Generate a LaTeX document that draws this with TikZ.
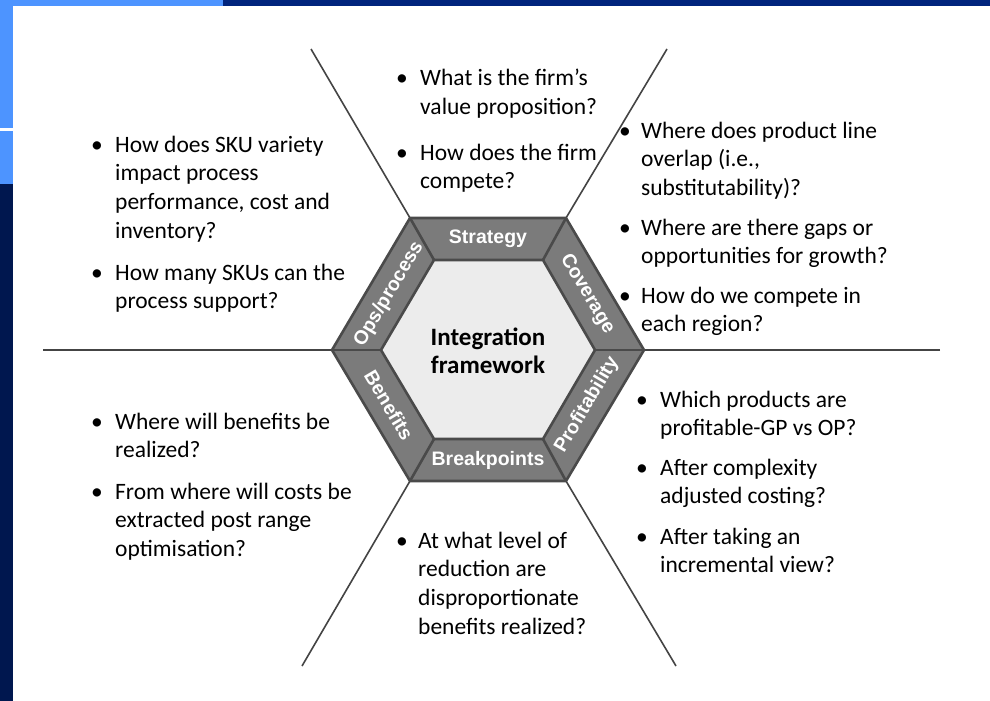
\documentclass[tikz,border=0pt]{standalone}
\usepackage{fontspec}
\setmainfont{Carlito}
\newfontfamily\labelfont{Liberation Sans}
\definecolor{barlight}{HTML}{4D94FF}
\definecolor{bardark}{HTML}{00247D}
\definecolor{stripnavy}{HTML}{00174F}
\definecolor{bandgrey}{HTML}{7B7B7B}
\definecolor{edgegrey}{HTML}{4A4A4A}
\definecolor{coregrey}{HTML}{ECECEC}
\definecolor{spokegrey}{HTML}{444444}
% a stack of lines whose baseline is that of its first line
\newcommand{\qlines}[1]{\begin{tabular}[t]{@{}l@{}}#1\end{tabular}}
\tikzset{
  qtext/.style={font=\fontsize{23.5}{28.7}\selectfont, anchor=base west, inner sep=0pt, text=black},
  qbullet/.style={font=\fontsize{23.5}{28.7}\selectfont, anchor=base west, inner sep=0pt, text=black},
  bandlabel/.style={font=\labelfont\bfseries\fontsize{19.5}{21}\selectfont, text=white, inner sep=0pt},
  spoke/.style={draw=spokegrey, line width=1.6pt},
  hexedge/.style={draw=edgegrey, line width=2.6pt, line join=round}
}
\begin{document}
\begin{tikzpicture}[x=1pt, y=-1pt]
\path[use as bounding box, fill=white] (0,0) rectangle (990,701);

% slide frame: top bar and left strip
\fill[bardark] (223,0) rectangle (990,6);
\fill[barlight] (0,0) rectangle (223,6);
\fill[barlight] (0,0) rectangle (13,128);
\fill[barlight] (0,131) rectangle (13,184);
\fill[stripnavy] (0,184) rectangle (13,701);

% hexagon corner points
\coordinate (o1) at (332,350);
\coordinate (o2) at (410,218);
\coordinate (o3) at (566,218);
\coordinate (o4) at (644,350);
\coordinate (o5) at (566,481);
\coordinate (o6) at (410,481);
\coordinate (i1) at (381,350);
\coordinate (i2) at (434,260);
\coordinate (i3) at (543,260);
\coordinate (i4) at (595,350);
\coordinate (i5) at (543,439);
\coordinate (i6) at (434,439);

% free ends of the dividing lines
\coordinate (e1) at (43,350);
\coordinate (e2) at (311,49);
\coordinate (e3) at (667,49);
\coordinate (e4) at (940,350);
\coordinate (e5) at (676,666);
\coordinate (e6) at (302,666);

\draw[spoke] (e1) -- (o1);
\draw[spoke] (e2) -- (o2);
\draw[spoke] (e3) -- (o3);
\draw[spoke] (e4) -- (o4);
\draw[spoke] (e5) -- (o5);
\draw[spoke] (e6) -- (o6);

% hexagon: outer band and core
\fill[bandgrey] (o1) -- (o2) -- (o3) -- (o4) -- (o5) -- (o6) -- cycle;
\fill[coregrey] (i1) -- (i2) -- (i3) -- (i4) -- (i5) -- (i6) -- cycle;
\draw[hexedge] (o1) -- (o2) -- (o3) -- (o4) -- (o5) -- (o6) -- cycle;
\draw[hexedge] (i1) -- (i2) -- (i3) -- (i4) -- (i5) -- (i6) -- cycle;
\foreach \k in {1,...,6} \draw[hexedge] (o\k) -- (i\k);

% band labels
\node[bandlabel] (strategy) at (488,239) {Strategy};
\node[bandlabel, rotate=-59.4] (coverage) at (587,294) {Coverage};
\node[bandlabel, rotate=59.4] (profit) at (587,405) {Profitability};
\node[bandlabel] (breakpts) at (488,460) {Breakpoints};
\node[bandlabel, rotate=-59.4] (benefits) at (389,405) {Benefits};
\node[bandlabel, rotate=59.4] (ops) at (389,294) {Ops/process};

\node[font=\bfseries\fontsize{25}{28}\selectfont, align=center] (core) at (488,351) {Integration\\framework};

% questions: upper left
\node[qbullet] (b11) at (91,152) {•};
\node[qtext] (q11) at (115,152) {\qlines{How does SKU variety\\impact process\\performance, cost and\\inventory?}};
\node[qbullet] (b12) at (91,280) {•};
\node[qtext] (q12) at (115,280) {\qlines{How many SKUs can the\\process support?}};

% questions: top
\node[qbullet] (b21) at (396,85.5) {•};
\node[qtext] (q21) at (420,85.5) {\qlines{What is the firm’s\\value proposition?}};
\node[qbullet] (b22) at (396,160) {•};
\node[qtext] (q22) at (420,160) {\qlines{How does the firm\\compete?}};

% questions: upper right
\node[qbullet] (b31) at (619,138) {•};
\node[qtext] (q31) at (641,138) {\qlines{Where does product line\\overlap (i.e.,\\substitutability)?}};
\node[qbullet] (b32) at (619,235) {•};
\node[qtext] (q32) at (641,235) {\qlines{Where are there gaps or\\opportunities for growth?}};
\node[qbullet] (b33) at (619,303) {•};
\node[qtext] (q33) at (641,303) {\qlines{How do we compete in\\each region?}};

% questions: lower left
\node[qbullet] (b41) at (91,429) {•};
\node[qtext] (q41) at (115,429) {\qlines{Where will benefits be\\realized?}};
\node[qbullet] (b42) at (91,499) {•};
\node[qtext] (q42) at (115,499) {\qlines{From where will costs be\\extracted post range\\optimisation?}};

% questions: lower right
\node[qbullet] (b51) at (636,407) {•};
\node[qtext] (q51) at (660,407) {\qlines{Which products are\\profitable-GP vs OP?}};
\node[qbullet] (b52) at (636,475) {•};
\node[qtext] (q52) at (660,475) {\qlines{After complexity\\adjusted costing?}};
\node[qbullet] (b53) at (636,544) {•};
\node[qtext] (q53) at (660,544) {\qlines{After taking an\\incremental view?}};

% questions: bottom
\node[qbullet] (b61) at (396,548) {•};
\node[qtext] (q61) at (418,548) {\qlines{At what level of\\reduction are\\disproportionate\\benefits realized?}};
\end{tikzpicture}
\end{document}
